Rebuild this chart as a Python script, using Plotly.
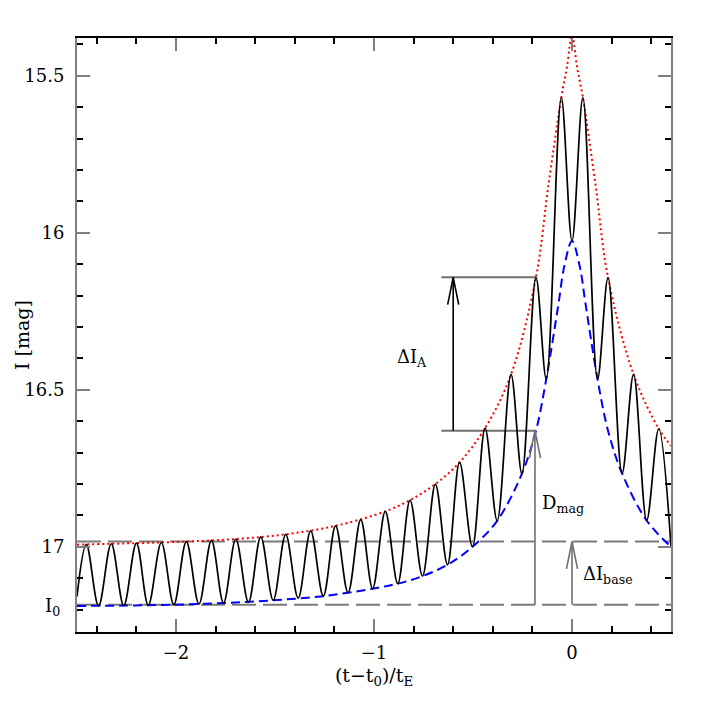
import plotly.graph_objects as go

# Extremos de la curva negra (picos y valles).
black_x = [-2.500, -2.453, -2.391, -2.327, -2.264, -2.200, -2.140, -2.074, -2.011,
           -1.948, -1.884, -1.821, -1.760, -1.698, -1.634, -1.572, -1.509, -1.446,
           -1.383, -1.320, -1.256, -1.194, -1.131, -1.067, -1.007, -0.943, -0.880,
           -0.818, -0.755, -0.690, -0.629, -0.568, -0.503, -0.439, -0.378, -0.308,
           -0.253, -0.182, -0.130, -0.054, 0.000, 0.055, 0.129, 0.182, 0.253,
           0.311, 0.377, 0.438, 0.500]
black_mag = [17.158, 16.992, 17.188, 16.990, 17.187, 16.988, 17.186, 16.986, 17.184,
             16.983, 17.182, 16.979, 17.179, 16.975, 17.176, 16.968, 17.170, 16.960,
             17.163, 16.949, 17.157, 16.933, 17.146, 16.913, 17.133, 16.887, 17.117,
             16.851, 17.093, 16.800, 17.057, 16.731, 17.000, 16.622, 16.917, 16.451,
             16.767, 16.142, 16.466, 15.570, 16.026, 15.570, 16.466, 16.143, 16.766,
             16.451, 16.916, 16.624, 17.000]

# Envolvente superior (punteada roja).
red_x = [-2.500, -2.200, -1.948, -1.698, -1.446, -1.194, -0.943, -0.818, -0.690,
         -0.568, -0.439, -0.308, -0.182, -0.120, -0.054, -0.025, 0.000, 0.025,
         0.055, 0.120, 0.182, 0.311, 0.438, 0.500]
red_mag = [16.993, 16.988, 16.983, 16.975, 16.960, 16.933, 16.887, 16.851, 16.800,
           16.731, 16.622, 16.451, 16.142, 15.853, 15.570, 15.470, 15.370, 15.470,
           15.570, 15.853, 16.143, 16.451, 16.624, 16.678]

# Envolvente inferior (discontinua azul).
blue_x = [-2.500, -2.264, -2.011, -1.760, -1.509, -1.256, -1.007, -0.880, -0.755,
          -0.629, -0.503, -0.378, -0.253, -0.182, -0.130, -0.068, -0.040, 0.000,
          0.040, 0.068, 0.129, 0.182, 0.253, 0.377, 0.500]
blue_mag = [17.188, 17.187, 17.184, 17.179, 17.170, 17.157, 17.133, 17.117, 17.093,
            17.057, 17.000, 16.917, 16.767, 16.630, 16.466, 16.225, 16.110, 16.026,
            16.110, 16.225, 16.466, 16.630, 16.766, 16.916, 17.000]

# Niveles y tiempos de las anotaciones.
base_top = 16.983      # brillo máximo fuera del evento
base_i0 = 17.184       # I0
amp_top = 16.142
amp_bottom = 16.630
t_amp = -0.182
t_amp_arrow = -0.600
t_amp_line_start = -0.660
t_base_arrow = 0.0

FONT = "DejaVu Serif"

fig = go.Figure()
fig.add_trace(go.Scatter(x=red_x, y=red_mag, mode="lines",
                         line=dict(color="red", width=2, dash="2px,3px", shape="spline")))
fig.add_trace(go.Scatter(x=blue_x, y=blue_mag, mode="lines",
                         line=dict(color="blue", width=2, dash="9px,5px", shape="spline")))
fig.add_trace(go.Scatter(x=black_x, y=black_mag, mode="lines",
                         line=dict(color="black", width=1.7, shape="spline")))

shapes = []
# Líneas discontinuas grises de referencia.
for lvl in (base_top, base_i0):
    shapes.append(dict(type="line", xref="paper", x0=0, x1=1, yref="y", y0=lvl, y1=lvl,
                       line=dict(color="#7a7a7a", width=2, dash="24px,7px"), layer="below"))
# Líneas horizontales del ΔI_A.
for lvl in (amp_top, amp_bottom):
    shapes.append(dict(type="line", x0=t_amp_line_start, x1=t_amp, y0=lvl, y1=lvl,
                       line=dict(color="#707070", width=2), layer="below"))


def arrow(x, y_from, y_to, color):
    hw, hl = 0.028, 0.087
    shapes.append(dict(type="line", x0=x, x1=x, y0=y_from, y1=y_to,
                       line=dict(color=color, width=1.6)))
    path = f"M {x - hw},{y_to + hl} L {x},{y_to} L {x + hw},{y_to + hl}"
    shapes.append(dict(type="path", path=path, line=dict(color=color, width=1.6)))


arrow(t_amp_arrow, amp_bottom, amp_top, "black")
arrow(t_amp - 0.005, base_i0, amp_bottom, "#707070")
arrow(t_base_arrow, base_i0, base_top, "#707070")

annotations = [
    dict(x=-0.81, y=16.40, text="ΔI<sub>A</sub>", showarrow=False,
         font=dict(family=FONT, size=18, color="black")),
    dict(x=-0.047, y=16.865, text="D<sub>mag</sub>", showarrow=False,
         font=dict(family=FONT, size=18, color="black")),
    dict(x=0.18, y=17.088, text="ΔI<sub>base</sub>", showarrow=False,
         font=dict(family=FONT, size=18, color="black")),
    dict(xref="paper", x=0, y=base_i0, xanchor="right", xshift=-15, yshift=-2,
         text="I<sub>0</sub>", showarrow=False,
         font=dict(family=FONT, size=18, color="black")),
    # Título del eje y.
    dict(xref="paper", yref="paper", x=0, y=0.5, xanchor="center", yanchor="middle",
         xshift=-55, textangle=-90, text="I [mag]", showarrow=False, borderpad=0,
         font=dict(family=FONT, size=19, color="black")),
]

fig.update_layout(
    width=708, height=708,
    margin=dict(l=69, r=45, t=30, b=84),
    plot_bgcolor="white", paper_bgcolor="white",
    showlegend=False,
    shapes=shapes,
    annotations=annotations,
    font=dict(family=FONT, size=18, color="black"),
    xaxis=dict(
        range=[-2.5, 0.5], tick0=0, dtick=1, automargin=False,
        ticks="inside", ticklen=13, tickwidth=1.5, tickcolor="#808080",
        minor=dict(dtick=0.2, tick0=0, ticks="inside", ticklen=6,
                   tickwidth=1.5, tickcolor="black"),
        showline=True, linecolor="black", linewidth=1.5, mirror="allticks",
        showgrid=False, zeroline=False, ticklabelstandoff=4,
        tickfont=dict(family=FONT, size=18),
        title=dict(text="(t−t<sub>0</sub>)/t<sub>E</sub>", standoff=6,
                   font=dict(family=FONT, size=19)),
    ),
    yaxis=dict(
        range=[17.271, 15.38], tick0=15.5, dtick=0.5, automargin=False,
        ticks="inside", ticklen=13, tickwidth=1.5, tickcolor="#808080",
        minor=dict(dtick=0.1, tick0=15, ticks="inside", ticklen=6,
                   tickwidth=1.5, tickcolor="black"),
        showline=True, linecolor="#808080", linewidth=2, mirror="allticks",
        showgrid=False, zeroline=False, ticklabelstandoff=7,
        tickfont=dict(family=FONT, size=18),
    ),
)

fig.write_html("out.html")
